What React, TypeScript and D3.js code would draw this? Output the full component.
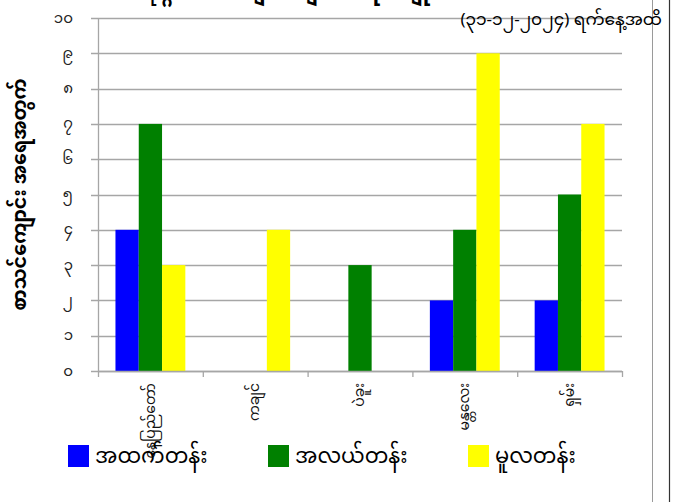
import { useEffect, useRef } from "react";
import * as d3 from "d3";

const categories = ["နေပြည်တော်", "ကချင်", "ပဲခူး", "မန္တလေး", "ရှမ်း"];
const seriesNames = ["အထက်တန်း", "အလယ်တန်း", "မူလတန်း"];
const seriesColors = ["#0000ff", "#008000", "#ffff00"];
const upperValues = [4, 0, 0, 2, 2];
const middleValues = [7, 0, 3, 4, 5];
const primaryValues = [3, 4, 0, 9, 7];
const yTicks = [0, 1, 2, 3, 4, 5, 6, 7, 8, 9, 10];
const myanmarDigits = ["၀", "၁", "၂", "၃", "၄", "၅", "၆", "၇", "၈", "၉"];

const titleText = "ပုဂ္ဂလိကကျောင်းများ စာရင်းချုပ်";
const subtitleText = "(၃၁-၁၂-၂၀၂၄) ရက်နေ့အထိ";
const yAxisTitle = "စာသင်ကျောင်း အရေအတွက်";

const toMyanmar = (n: number) =>
  String(n)
    .split("")
    .map((c) => myanmarDigits[+c])
    .join("");

const FONT = "'Noto Sans Myanmar', 'Noto Sans', 'DejaVu Sans', sans-serif";

function BarChart() {
  const svgRef = useRef<SVGSVGElement>(null);
  const width = 679;
  const height = 502;

  useEffect(() => {
    if (!svgRef.current) return;
    const svg = d3.select(svgRef.current);
    svg.selectAll("*").remove();

    const left = 98;
    const right = 622;
    const top = 18;
    const bottom = 371;

    const series = [upperValues, middleValues, primaryValues];

    const x = d3.scaleBand().domain(categories).range([left, right]).padding(0);
    const x1 = d3
      .scaleBand()
      .domain(seriesNames)
      .range([0, x.bandwidth()])
      .paddingOuter(0.75)
      .paddingInner(0);
    const y = d3.scaleLinear().domain([0, 10]).range([bottom, top]);

    svg.append("rect").attr("width", width).attr("height", height).attr("fill", "#fff");

    // right border lines
    svg.append("line").attr("x1", 652.5).attr("x2", 652.5).attr("y1", 0).attr("y2", height)
      .attr("stroke", "#9a9a9a").attr("stroke-width", 1);
    svg.append("line").attr("x1", 669.5).attr("x2", 669.5).attr("y1", 0).attr("y2", height)
      .attr("stroke", "#333").attr("stroke-width", 1.2);

    // gridlines
    svg.append("g")
      .selectAll("line")
      .data(yTicks)
      .enter()
      .append("line")
      .attr("x1", left - 7)
      .attr("x2", right)
      .attr("y1", (d) => Math.round(y(d)) + 0.5)
      .attr("y2", (d) => Math.round(y(d)) + 0.5)
      .attr("stroke", "#a6a6a6")
      .attr("stroke-width", 1.3);

    // y tick labels
    svg.append("g")
      .selectAll("text")
      .data(yTicks)
      .enter()
      .append("text")
      .attr("x", 73)
      .attr("y", (d) => y(d))
      .attr("dy", "0.3em")
      .attr("text-anchor", "end")
      .attr("font-family", FONT)
      .attr("font-size", 15)
      .attr("fill", "#222")
      .text((d) => toMyanmar(d));

    // bars
    const groups = svg
      .append("g")
      .selectAll("g")
      .data(categories)
      .enter()
      .append("g")
      .attr("transform", (d) => `translate(${x(d)},0)`);

    groups
      .selectAll("rect")
      .data((_, i) => series.map((s, k) => ({ key: seriesNames[k], value: s[i], color: seriesColors[k] })))
      .enter()
      .append("rect")
      .attr("x", (d) => x1(d.key) ?? 0)
      .attr("width", x1.bandwidth())
      .attr("y", (d) => y(d.value))
      .attr("height", (d) => y(0) - y(d.value))
      .attr("fill", (d) => d.color);

    // axes lines
    svg.append("line").attr("x1", left + 0.5).attr("x2", left + 0.5).attr("y1", top).attr("y2", bottom + 6)
      .attr("stroke", "#a6a6a6").attr("stroke-width", 1.3);
    svg.append("line").attr("x1", left).attr("x2", right).attr("y1", bottom + 0.5).attr("y2", bottom + 0.5)
      .attr("stroke", "#a6a6a6").attr("stroke-width", 1.3);
    svg.append("g")
      .selectAll("line")
      .data(categories)
      .enter()
      .append("line")
      .attr("x1", (d) => (x(d) ?? 0) + x.bandwidth() + 0.5)
      .attr("x2", (d) => (x(d) ?? 0) + x.bandwidth() + 0.5)
      .attr("y1", bottom)
      .attr("y2", bottom + 6)
      .attr("stroke", "#a6a6a6")
      .attr("stroke-width", 1.3);

    // category labels
    svg.append("g")
      .selectAll("text")
      .data(categories)
      .enter()
      .append("text")
      .attr("transform", (d) => `translate(${(x(d) ?? 0) + x.bandwidth() / 2},${bottom + 12}) rotate(-90)`)
      .attr("dy", "0.3em")
      .attr("text-anchor", "end")
      .attr("font-family", FONT)
      .attr("font-size", 14)
      .attr("fill", "#111")
      .text((d) => d);

    // y axis title
    svg.append("text")
      .attr("transform", `translate(20,${(top + bottom) / 2}) rotate(-90)`)
      .attr("dy", "0.3em")
      .attr("text-anchor", "middle")
      .attr("font-family", FONT)
      .attr("font-size", 19)
      .attr("font-weight", "bold")
      .attr("fill", "#000")
      .text(yAxisTitle);

    // title (mostly above the visible area)
    svg.append("text")
      .attr("x", 295)
      .attr("y", -4)
      .attr("text-anchor", "middle")
      .attr("textLength", 300)
      .attr("lengthAdjust", "spacingAndGlyphs")
      .attr("font-family", FONT)
      .attr("font-size", 22)
      .attr("font-weight", "bold")
      .attr("fill", "#000")
      .text(titleText);

    // subtitle
    svg.append("text")
      .attr("x", 662)
      .attr("y", 25)
      .attr("text-anchor", "end")
      .attr("font-family", FONT)
      .attr("font-size", 17)
      .attr("fill", "#000")
      .text(subtitleText);

    // legend
    const legend = svg
      .append("g")
      .selectAll("g")
      .data(seriesNames)
      .enter()
      .append("g")
      .attr("transform", (_, i) => `translate(${68 + i * 200},445)`);
    legend
      .append("rect")
      .attr("width", 21)
      .attr("height", 22)
      .attr("fill", (_, i) => seriesColors[i]);
    legend
      .append("text")
      .attr("x", 27)
      .attr("y", 11)
      .attr("dy", "0.35em")
      .attr("font-family", FONT)
      .attr("font-size", 21)
      .attr("fill", "#000")
      .text((d) => d);

    return () => {
      svg.selectAll("*").remove();
    };
  }, []);

  return (
    <svg
      ref={svgRef}
      width={width}
      height={height}
      style={{ position: "absolute", left: 0, top: 0 }}
    />
  );
}

export default function App() {
  return <BarChart />;
}
